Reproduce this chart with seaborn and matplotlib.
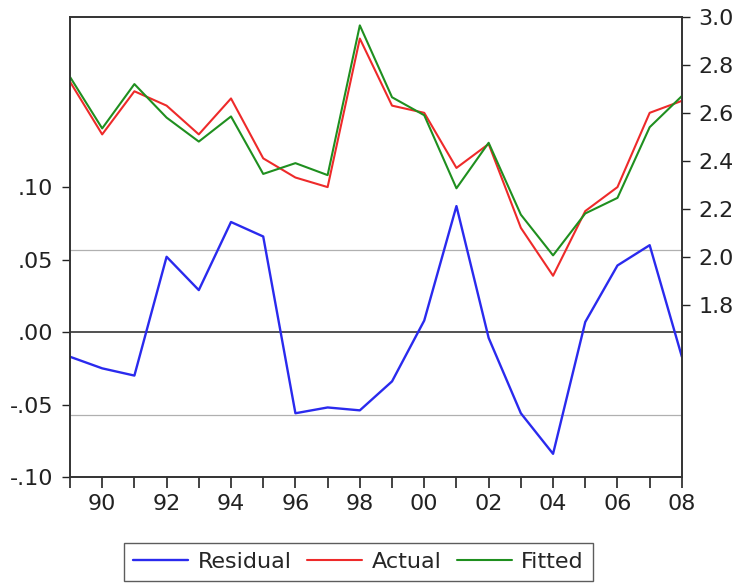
import matplotlib
matplotlib.use("Agg")
import matplotlib.pyplot as plt
import seaborn as sns
import pandas as pd

years = list(range(1989, 2009))
residual = [-0.017, -0.025, -0.030, 0.052, 0.029, 0.076, 0.066, -0.056, -0.052, -0.054,
            -0.034, 0.008, 0.087, -0.004, -0.056, -0.084, 0.007, 0.046, 0.060, -0.017]
actual = [2.73, 2.51, 2.69, 2.63, 2.51, 2.66, 2.41, 2.33, 2.29, 2.91,
          2.63, 2.60, 2.37, 2.47, 2.12, 1.92, 2.19, 2.29, 2.60, 2.65]
fitted = [2.75, 2.535, 2.72, 2.58, 2.48, 2.585, 2.345, 2.39, 2.34, 2.965,
          2.665, 2.59, 2.285, 2.475, 2.175, 2.005, 2.18, 2.245, 2.54, 2.67]
se_band = 0.057

left_ticks = [-0.10, -0.05, 0.00, 0.05, 0.10]
left_labels = ["-.10", "-.05", ".00", ".05", ".10"]
right_ticks = [1.8, 2.0, 2.2, 2.4, 2.6, 2.8, 3.0]
x_label_years = list(range(1990, 2009, 2))

df = pd.DataFrame({"year": years, "Residual": residual, "Actual": actual, "Fitted": fitted})

sns.set_style("ticks")
plt.rcParams["font.family"] = ["DejaVu Sans"]

FS = 16
fig = plt.figure(figsize=(7.39, 5.86), dpi=100)
ax = fig.add_axes([0.0947, 0.186, 0.828, 0.785])
ax2 = ax.twinx()

# residual panel on the left scale
ax.axhline(0, color="#333333", lw=1.2, zorder=1)
ax.axhline(se_band, color="#b0b0b0", lw=0.9, zorder=1)
ax.axhline(-se_band, color="#b0b0b0", lw=0.9, zorder=1)
sns.lineplot(data=df, x="year", y="Residual", ax=ax, color="#2a2aee", lw=1.7, label="Residual", legend=False)

# actual vs fitted on the right scale
sns.lineplot(data=df, x="year", y="Actual", ax=ax2, color="#ee2a2a", lw=1.5, label="Actual", legend=False)
sns.lineplot(data=df, x="year", y="Fitted", ax=ax2, color="#1f8f1f", lw=1.5, label="Fitted", legend=False)

ax.set_xlim(1989, 2008)
ax.set_ylim(-0.10, 0.2175)
ax2.set_ylim(1.08, 3.0)

ax.set_yticks(left_ticks)
ax.set_yticklabels(left_labels)
ax2.set_yticks(right_ticks)
ax2.set_yticklabels([f"{v:.1f}" for v in right_ticks])

ax.set_xticks(years, minor=True)
ax.set_xticks(x_label_years)
ax.set_xticklabels([f"{y % 100:02d}" for y in x_label_years])

ax.tick_params(axis="x", which="both", direction="out", length=8, width=1.2,
               labelsize=FS, pad=4, colors="#222222")
ax.tick_params(axis="y", direction="out", length=6, width=1, labelsize=FS, pad=6, colors="#222222")
ax2.tick_params(axis="y", direction="out", length=6, width=1, labelsize=FS, pad=6, colors="#222222")

for a in (ax, ax2):
    a.set_xlabel("")
    a.set_ylabel("")
    for s in a.spines.values():
        s.set_visible(True)
        s.set_color("#333333")
        s.set_linewidth(1.2)

handles = ax.get_lines()[-1:] + ax2.get_lines()
leg = fig.legend(handles=handles, labels=["Residual", "Actual", "Fitted"],
                 loc="upper center", bbox_to_anchor=(0.485, 0.0734), ncol=3,
                 fontsize=FS, frameon=True, fancybox=False, edgecolor="#333333",
                 handlelength=2.5, columnspacing=0.7, handletextpad=0.4,
                 borderpad=0.4, borderaxespad=0)
leg.get_frame().set_linewidth(1.0)

fig.savefig("out.png", dpi=100)
